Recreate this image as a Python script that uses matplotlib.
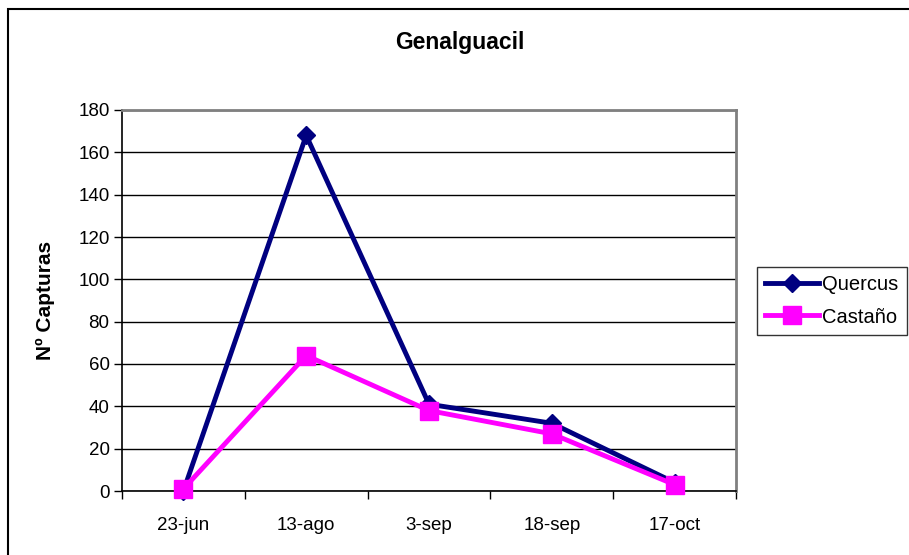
import matplotlib.pyplot as plt
from matplotlib.patches import Rectangle

plt.rcParams["font.family"] = ["Liberation Sans", "DejaVu Sans"]

fechas = ["23-jun", "13-ago", "3-sep", "18-sep", "17-oct"]
quercus = [0, 168, 41, 32, 4]
castano = [1, 64, 38, 27, 3]
yticks = list(range(0, 181, 20))


def main():
    fig = plt.figure(figsize=(9.09, 5.55), dpi=100)
    ax = fig.add_axes([122 / 909, 64 / 555, 614 / 909, 381 / 555])

    # outer chart frame (only left/top edges fall inside the image)
    fig.patches.append(Rectangle((8 / 909, -0.1), 1.2, (555 - 9) / 555 + 0.1,
                                 transform=fig.transFigure, fill=False,
                                 edgecolor="black", linewidth=1.5))

    x = list(range(len(fechas)))
    ax.plot(x, quercus, color="#000080", linewidth=3.5, marker="D",
            markersize=9.5, label="Quercus", clip_on=False, zorder=3)
    ax.plot(x, castano, color="#FF00FF", linewidth=3.5, marker="s",
            markersize=12.5, label="Castaño", clip_on=False, zorder=4)

    ax.set_xlim(-0.5, len(fechas) - 0.5)
    ax.set_ylim(0, 180)
    ax.set_yticks(yticks)
    ax.set_xticks(x)
    ax.set_xticklabels(fechas)
    ax.set_xticks([i - 0.5 for i in range(len(fechas) + 1)], minor=True)
    ax.tick_params(axis="x", which="major", length=0, pad=18.5, labelsize=13.5)
    ax.tick_params(axis="x", which="minor", length=6, width=1, direction="out")
    ax.tick_params(axis="y", length=6, width=1, direction="out", pad=3,
                   labelsize=13.5)

    ax.grid(axis="y", color="black", linewidth=1)
    ax.set_axisbelow(True)
    ax.spines["left"].set_color("black")
    ax.spines["bottom"].set_color("black")
    ax.spines["left"].set_linewidth(1.2)
    ax.spines["bottom"].set_linewidth(1.2)
    ax.spines["top"].set_color("#808080")
    ax.spines["right"].set_color("#808080")
    ax.spines["top"].set_linewidth(2)
    ax.spines["right"].set_linewidth(2)

    fig.text(460 / 909, 1 - 42 / 555, "Genalguacil", ha="center", va="center",
             fontsize=16.5, fontweight="bold")
    fig.text(45 / 909, 1 - 300 / 555, "Nº Capturas", ha="center", va="center",
             rotation=90, fontsize=15, fontweight="bold")

    leg = fig.legend(loc="center left", bbox_to_anchor=(757 / 909, 1 - 301 / 555),
                     fontsize=14.5, frameon=True, fancybox=False,
                     edgecolor="black", handlelength=2.7, handletextpad=0.15,
                     borderpad=0.4, labelspacing=0.65, borderaxespad=0)
    leg.get_frame().set_linewidth(1)

    fig.savefig("out.png", dpi=100)
    plt.close(fig)


if __name__ == "__main__":
    main()
